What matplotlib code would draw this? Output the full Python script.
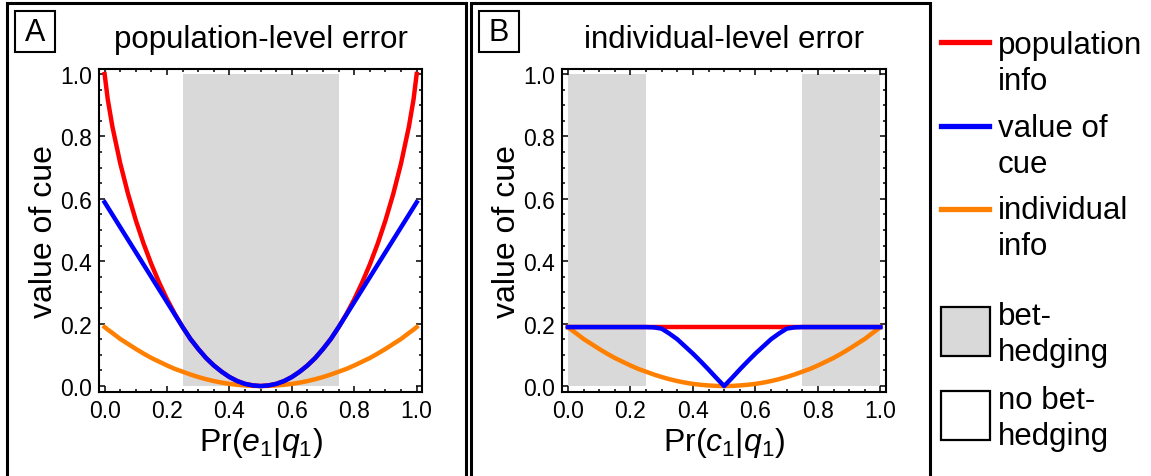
import matplotlib

matplotlib.use("Agg")
import matplotlib.pyplot as plt
from matplotlib.lines import Line2D
from matplotlib.patches import Rectangle
from matplotlib.ticker import MultipleLocator, FormatStrFormatter

plt.rcParams["font.family"] = ["Liberation Sans", "DejaVu Sans"]
plt.rcParams["mathtext.fontset"] = "custom"
plt.rcParams["mathtext.rm"] = "Liberation Sans"
plt.rcParams["mathtext.it"] = "Liberation Sans:italic"

# probability on the x axis (same grid for both panels)
X = [0.0, 0.01, 0.025, 0.05, 0.075, 0.1, 0.125, 0.15, 0.175, 0.2, 0.225,
     0.25, 0.275, 0.3, 0.325, 0.35, 0.375, 0.4, 0.425, 0.45, 0.475, 0.5,
     0.525, 0.55, 0.575, 0.6, 0.625, 0.65, 0.675, 0.7, 0.725, 0.75,
     0.775, 0.8, 0.825, 0.85, 0.875, 0.9, 0.925, 0.95, 0.975, 0.99, 1.0]

# panel A: population-level error
POP_A = [1.0, 0.919, 0.831, 0.714, 0.616, 0.531, 0.456, 0.390, 0.331, 0.278, 0.231,
         0.189, 0.151, 0.119, 0.090, 0.066, 0.046, 0.029, 0.016, 0.007, 0.002, 0.0,
         0.002, 0.007, 0.016, 0.029, 0.046, 0.066, 0.090, 0.119, 0.151, 0.189,
         0.231, 0.278, 0.331, 0.390, 0.456, 0.531, 0.616, 0.714, 0.831, 0.919, 1.0]
CUE_A = [0.589, 0.573, 0.549, 0.509, 0.469, 0.429, 0.389, 0.349, 0.309, 0.269, 0.229,
         0.189, 0.151, 0.119, 0.090, 0.066, 0.046, 0.029, 0.016, 0.007, 0.002, 0.0,
         0.002, 0.007, 0.016, 0.029, 0.046, 0.066, 0.090, 0.119, 0.151, 0.189,
         0.229, 0.269, 0.309, 0.349, 0.389, 0.429, 0.469, 0.509, 0.549, 0.573, 0.589]
IND_A = [0.189, 0.181, 0.170, 0.151, 0.135, 0.119, 0.104, 0.090, 0.078, 0.066, 0.055,
         0.046, 0.037, 0.029, 0.022, 0.016, 0.011, 0.007, 0.004, 0.002, 0.0005, 0.0,
         0.0005, 0.002, 0.004, 0.007, 0.011, 0.016, 0.022, 0.029, 0.037, 0.046,
         0.055, 0.066, 0.078, 0.090, 0.104, 0.119, 0.135, 0.151, 0.170, 0.181, 0.189]

# panel B: individual-level error
POP_B = [0.189] * len(X)
CUE_B = [0.189, 0.189, 0.189, 0.189, 0.189, 0.189, 0.189, 0.189, 0.189, 0.189, 0.189,
         0.189, 0.188, 0.184, 0.168, 0.150, 0.127, 0.104, 0.079, 0.053, 0.026, 0.0,
         0.026, 0.053, 0.079, 0.104, 0.127, 0.150, 0.168, 0.184, 0.188, 0.189,
         0.189, 0.189, 0.189, 0.189, 0.189, 0.189, 0.189, 0.189, 0.189, 0.189, 0.189]
IND_B = IND_A

# bet-hedging regions
BET_A = [(0.25, 0.75)]
BET_B = [(0.0, 0.25), (0.75, 1.0)]

RED = "#ff0000"
BLUE = "#0000ff"
ORANGE = "#ff8000"
GRAY = "#d9d9d9"

W, H = 1151, 477


def fx(px):
    return px / W


def fy(py):
    return 1 - py / H


def style_axes(ax):
    ax.set_xlim(-0.018, 1.018)
    ax.set_ylim(-0.02, 1.016)
    ax.xaxis.set_major_locator(MultipleLocator(0.2))
    ax.yaxis.set_major_locator(MultipleLocator(0.2))
    ax.xaxis.set_minor_locator(MultipleLocator(0.05))
    ax.yaxis.set_minor_locator(MultipleLocator(0.05))
    ax.xaxis.set_major_formatter(FormatStrFormatter("%.1f"))
    ax.yaxis.set_major_formatter(FormatStrFormatter("%.1f"))
    ax.tick_params(which="both", direction="in", top=True, right=True, width=1.1)
    ax.tick_params(which="major", length=4.5, pad=5, labelsize=16.5)
    ax.tick_params(which="minor", length=2.5)
    for sp in ax.spines.values():
        sp.set_linewidth(1.5)
    ax.set_ylabel("value of cue", fontsize=23)
    ax.yaxis.set_label_coords(-0.125, 0.5)


def draw_panel(ax, spans, pop, cue, ind, xlabel):
    for lo, hi in spans:
        ax.fill_between([lo, hi], 0, 1, color=GRAY, lw=0)
    ax.plot(X, ind, color=ORANGE, lw=3.2)
    ax.plot(X, pop, color=RED, lw=3.2)
    ax.plot(X, cue, color=BLUE, lw=3.2)
    style_axes(ax)
    ax.set_xlabel(xlabel, fontsize=23)
    ax.xaxis.set_label_coords(0.5, -0.1)


fig = plt.figure(figsize=(W / 100, H / 100), dpi=100)
ax_a = fig.add_axes([fx(99), fy(393.3), fx(422.3 - 99), (393.3 - 70) / H])
ax_b = fig.add_axes([fx(562.3), fy(393.3), fx(886 - 562.3), (393.3 - 70) / H])

draw_panel(ax_a, BET_A, POP_A, CUE_A, IND_A, r"Pr($e_{\mathit{1}}$|$q_{\mathit{1}}$)")
draw_panel(ax_b, BET_B, POP_B, CUE_B, IND_B, r"Pr($c_{\mathit{1}}$|$q_{\mathit{1}}$)")

# panel frames, letters and titles
for left, right, letter, title in [(7, 466, "A", "population-level error"),
                                   (471, 930, "B", "individual-level error")]:
    fig.add_artist(Rectangle((fx(left), fy(490)), fx(right - left), (490 - 4) / H,
                             transform=fig.transFigure, fill=False, lw=2.2, ec="black"))
    bx = left + 8
    fig.add_artist(Rectangle((fx(bx), fy(53)), fx(40), 41 / H,
                             transform=fig.transFigure, fill=False, lw=1.5, ec="black"))
    fig.text(fx(bx + 20), fy(33), letter, fontsize=22, ha="center", va="center")
    mid = (99 + 422.3) / 2 if letter == "A" else (562.3 + 886) / 2
    fig.text(fx(mid), fy(40), title, fontsize=22.5, ha="center", va="center")

# legend, drawn by hand
for color, label, y_line, y_text in [(RED, "population\ninfo", 43, 64),
                                     (BLUE, "value of\ncue", 127, 147),
                                     (ORANGE, "individual\ninfo", 210, 229)]:
    fig.add_artist(Line2D([fx(941), fx(989)], [fy(y_line), fy(y_line)], color=color, lw=3.8,
                          transform=fig.transFigure))
    fig.text(fx(998), fy(y_text), label, fontsize=22.5, ha="left", va="center", linespacing=1.3)

for face, label, top, y_text in [(GRAY, "bet-\nhedging", 308, 335),
                                 ("white", "no bet-\nhedging", 392, 419)]:
    fig.add_artist(Rectangle((fx(941), fy(top + 49)), fx(49), 49 / H, transform=fig.transFigure,
                             fc=face, ec="black", lw=1.6))
    fig.text(fx(998), fy(y_text), label, fontsize=22.5, ha="left", va="center", linespacing=1.3)

fig.savefig("out.png", dpi=100)
